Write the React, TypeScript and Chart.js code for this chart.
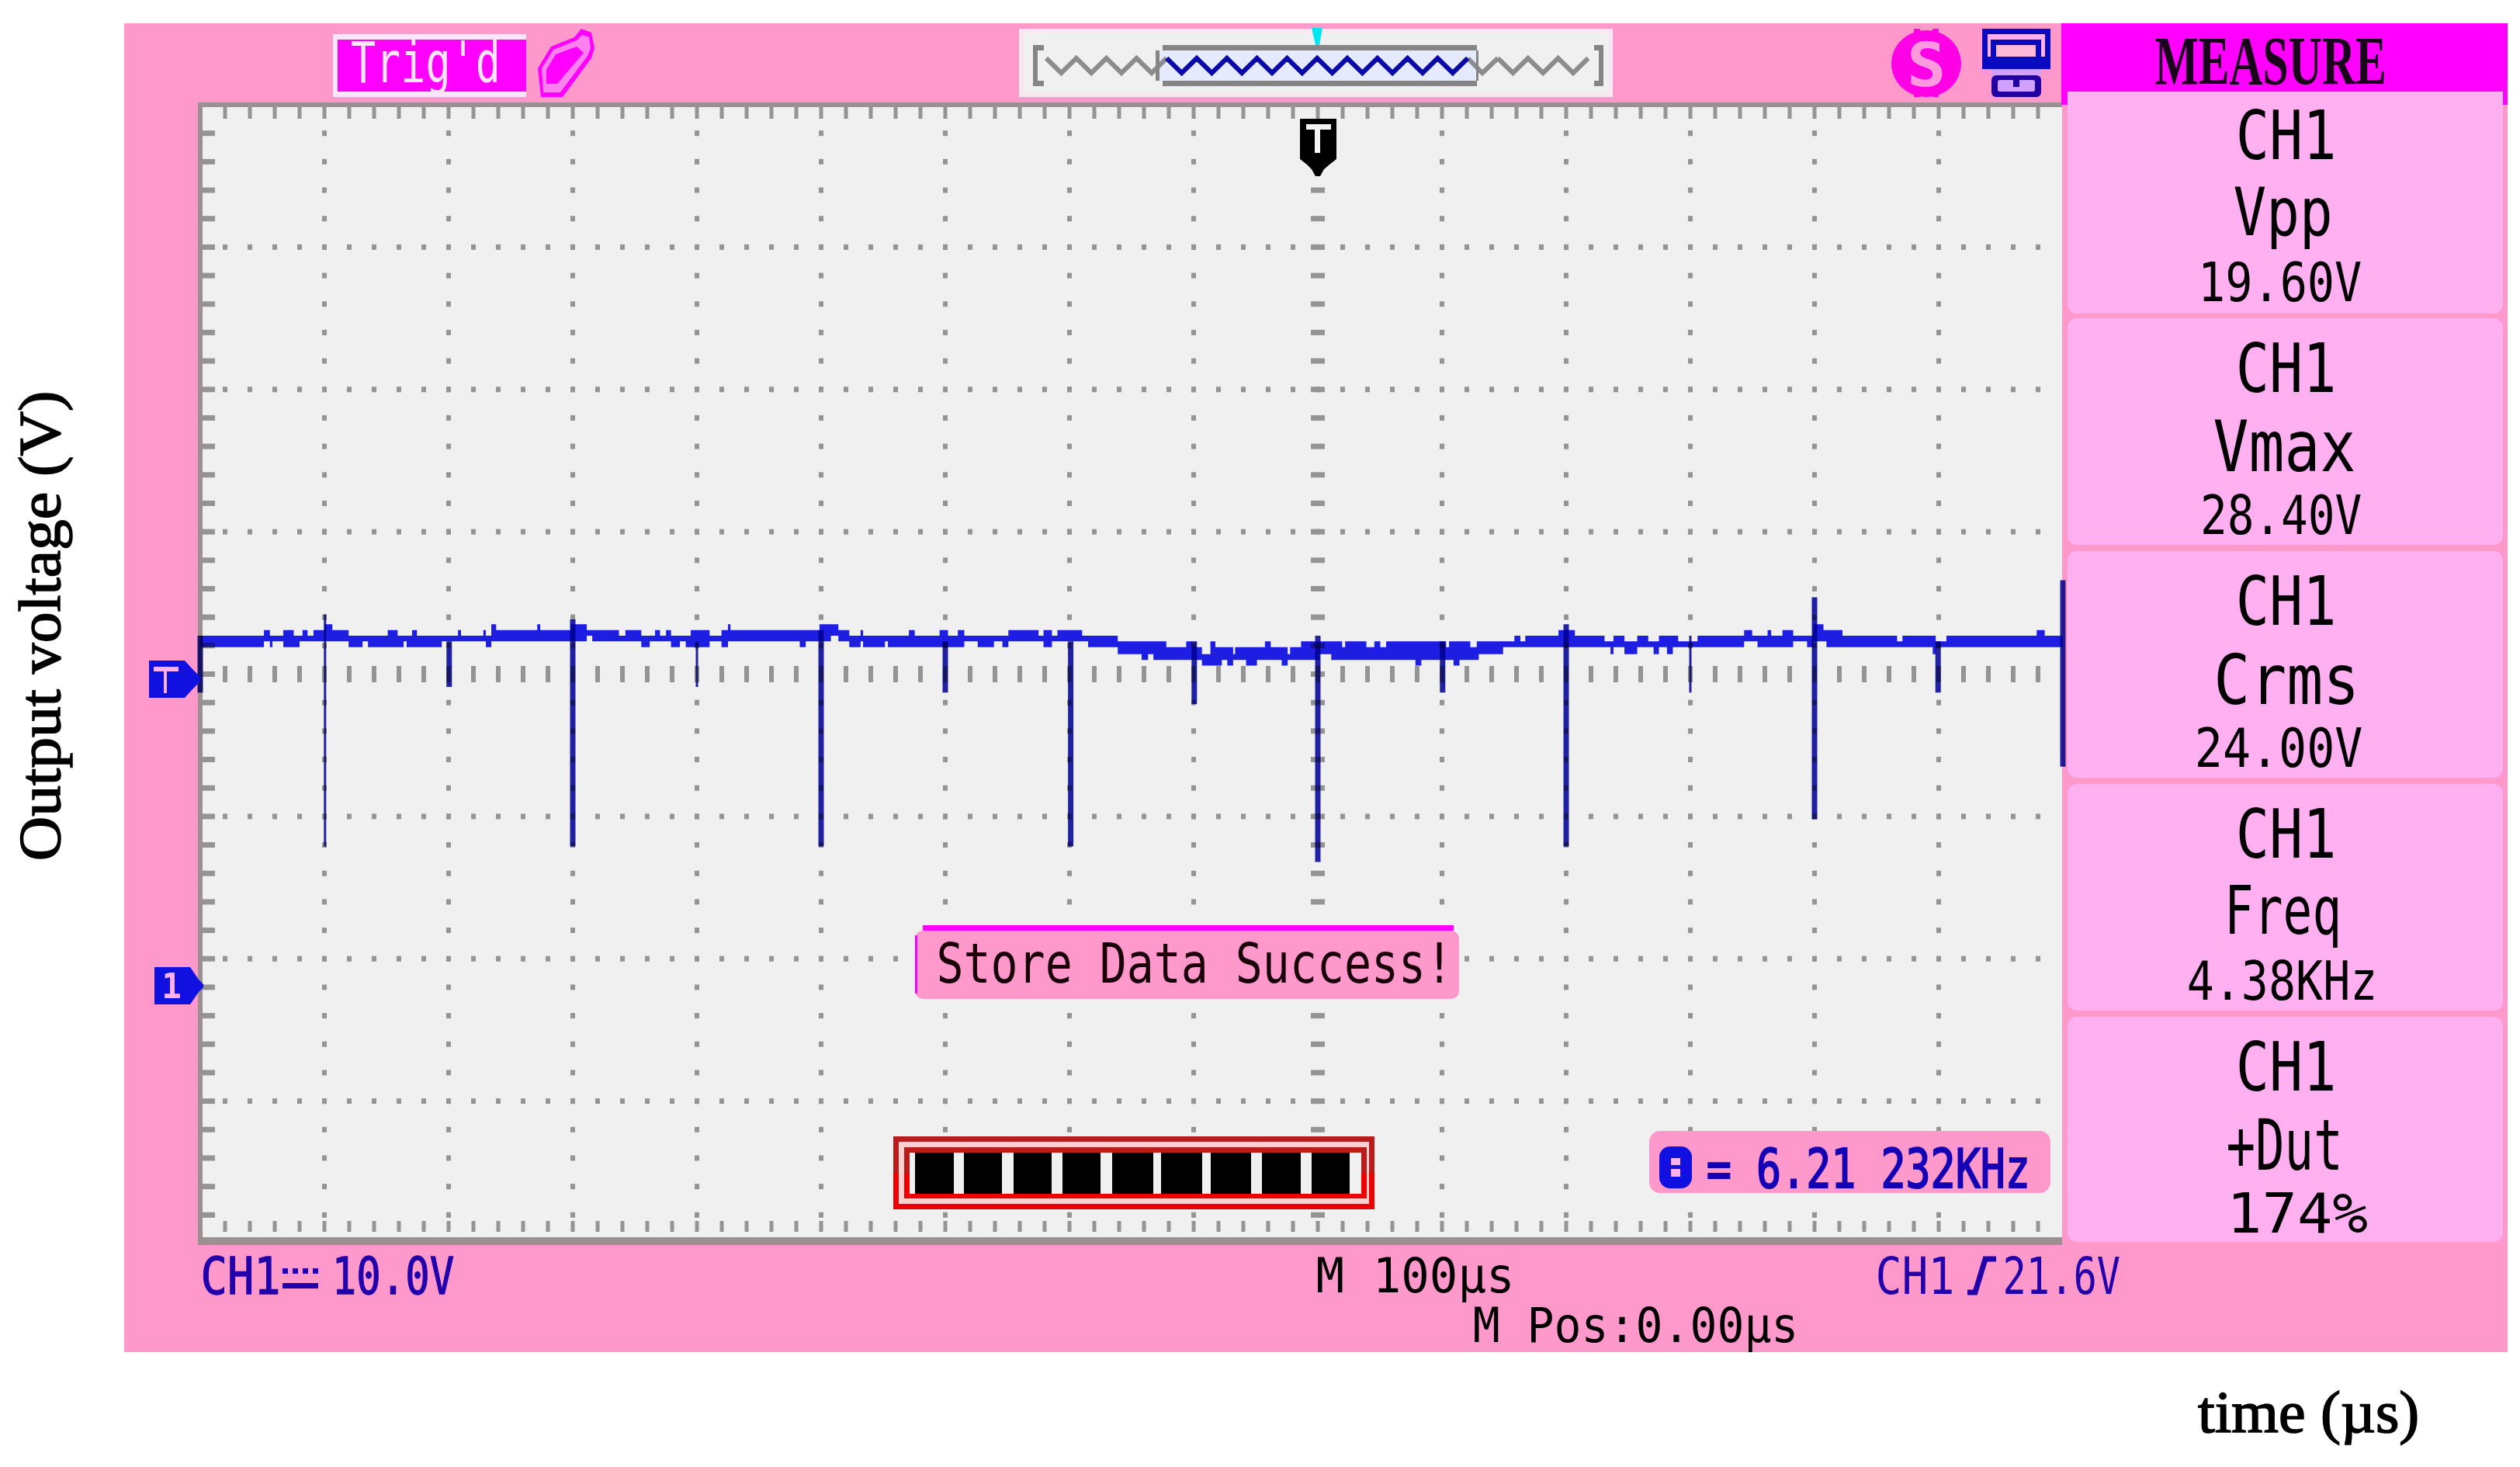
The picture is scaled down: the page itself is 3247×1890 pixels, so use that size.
import React, { useEffect, useRef } from "react";
import { Chart, registerables } from "chart.js";

Chart.register(...registerables);

const yAxisTitle = "Output voltage (V)";
const xAxisTitle = "time (µs)";
const headerText = "MEASURE";
const measureNames = ["Vpp", "Vmax", "Crms", "Freq", "+Dut"];
const measureValues = ["19.60V", "28.40V", "24.00V", "4.38KHz", "174%"];

// Envelope of the trace: each run starts at traceT (µs) and holds traceHi/traceLo (V).
const traceT = [
  -900, -848.7, -843.9, -841.9, -833.1, -824.7, -820, -817.6, -813.6, -808.8, -800, -793.6, -780.5, -769.3, -764.9,
  -749, -741, -736.2, -733.8, -729.4, -725.5, -705.5, -692.4, -690, -672, -670, -665.6, -661.7, -628.6, -626.2,
  -601.8, -588.7, -584.3, -562.8, -557.6, -544.8, -538, -533.7, -529.7, -524.9, -520.9, -513.7, -509, -505, -489.8,
  -480.2, -475, -473, -417.2, -412.4, -401.3, -392.1, -386.1, -377.3, -368.2, -366.2, -348.6, -346.2,
  -329.3, -324.6, -304.6, -297.8, -289.9, -284.7, -273.9, -260.8, -254, -249.2, -224.9, -220.9, -214.1, -209.7,
  -189.8, -185, -161.1, -141.9, -136.7, -132.4, -122, -106, -101.3, -93.3, -86.5, -82.5, -77.3, -72.9, -68.2, -66.6,
  -57.8, -49, -42.6, -37.9, -29.1, -24.3, -22.3, -13.5, 1.2, 10.8, 19.6, 22, 39.1, 45.5, 50.3, 55, 78.6, 83.4,
  103.3, 105.7, 109.3, 114.1, 122.8, 128, 129.6, 149.2, 158.3, 163.1, 167.1, 193.8, 207, 230.9, 235.7, 238.1, 246.9,
  257.2, 266.1, 270.4, 274.7, 281.2, 285.9, 290.2, 305.8, 343.3, 349.8, 354.1, 362.2, 365.1, 374.2, 382.8, 394,
  399.1, 407.2, 409.6, 422.5, 466.5, 470.8, 495.2, 497.6, 506.2, 578.9, 585.4, 600,
];
const traceHi = [
  24.6, 25.0, 24.6, 24.6, 25.0, 24.6, 24.6, 25.0, 24.6, 25.0, 25.4, 25.0, 24.6, 24.6, 24.6,
  25.0, 24.6, 24.6, 24.6, 25.0, 24.6, 24.6, 25.0, 24.6, 25.0, 24.6, 25.4, 25.0, 25.4, 25.0,
  25.4, 25.0, 25.0, 24.6, 25.0, 24.6, 24.6, 25.0, 24.6, 25.0, 24.6, 24.6, 24.6, 25.0, 24.6,
  25.0, 25.4, 25.0, 25.0, 25.0, 25.4, 25.4, 25.0, 24.6, 25.0, 24.6, 24.6, 24.6,
  25.0, 24.6, 25.0, 24.6, 25.0, 24.6, 24.6, 24.6, 24.6, 25.0, 24.6, 25.0, 24.6, 25.0,
  24.6, 24.6, 24.2, 24.2, 24.2, 24.2, 23.8, 24.2, 23.8, 23.3, 24.2, 23.8, 23.8, 23.8, 23.3, 23.8,
  23.8, 23.8, 24.2, 23.8, 23.8, 23.3, 23.8, 24.2, 24.2, 24.2, 23.8, 24.2, 23.8, 24.2, 23.8, 24.2, 24.2, 24.2,
  23.8, 24.2, 24.2, 24.2, 23.8, 24.2, 24.2, 24.2, 24.6, 24.2, 24.6, 25.0, 24.6, 24.2, 24.2, 24.6, 24.2,
  24.6, 24.2, 24.2, 24.6, 24.6, 24.6, 24.2, 24.6, 25.0, 24.6, 24.6, 25.0, 24.6, 25.0, 24.6, 24.6,
  25.4, 25.0, 25.0, 24.6, 24.2, 24.6, 24.6, 24.2, 24.6, 25.0, 24.6, 24.6,
];
const traceLo = [
  23.8, 24.2, 23.8, 24.2, 23.8, 23.8, 24.2, 24.2, 24.2, 24.2, 24.2, 24.2, 23.8, 24.2, 23.8,
  23.8, 23.8, 24.2, 23.8, 23.8, 23.8, 24.2, 24.2, 24.2, 24.2, 23.8, 24.2, 24.2, 24.2, 24.2,
  24.2, 24.6, 24.2, 24.2, 24.2, 23.8, 24.2, 24.2, 24.2, 24.2, 23.8, 24.2, 23.8, 23.8, 24.2,
  23.8, 24.2, 24.2, 23.8, 24.2, 24.2, 24.6, 24.2, 23.8, 24.2, 23.8, 24.2, 23.8,
  23.8, 23.8, 23.8, 23.8, 23.8, 24.2, 23.8, 24.2, 23.8, 24.2, 24.2, 23.8, 24.2, 24.2,
  24.2, 23.8, 23.3, 22.9, 23.3, 22.9, 22.9, 22.9, 22.9, 22.5, 22.5, 22.5, 22.9, 22.5, 22.9, 22.9,
  22.5, 22.9, 22.9, 22.9, 22.5, 22.9, 22.9, 22.9, 23.3, 22.9, 22.9, 22.9, 22.9, 22.9, 22.9, 22.9, 22.5, 22.9,
  22.9, 22.9, 22.5, 22.9, 22.9, 22.9, 23.3, 23.8, 23.8, 23.8, 23.8, 23.8, 23.8, 23.8, 23.3, 23.8, 23.3,
  23.8, 23.8, 23.3, 23.8, 23.3, 23.8, 23.8, 23.8, 24.2, 24.2, 23.8, 23.8, 23.8, 23.8, 24.2, 23.8,
  24.2, 24.2, 23.8, 23.8, 23.8, 23.8, 23.3, 23.8, 23.8, 23.8, 23.8, 23.8,
];

// Narrow spikes: [time µs, top V, bottom V]
const thinSpikeT = [-799.5, -500, 300];
const thinSpikeTop = [26.1, 24.2, 24.6];
const thinSpikeBottom = [9.8, 21.0, 20.6];
// Wide spikes
const wideSpikeT = [-900, -699.5, -600, -400, -300, -199, -99.5, 0, 100.5, 200, 400, 499.5, 600];
const wideSpikeTop = [24.6, 24.2, 25.75, 25.0, 24.2, 24.2, 24.2, 24.6, 24.2, 25.4, 27.3, 24.2, 28.5];
const wideSpikeBottom = [20.6, 21.0, 9.8, 9.8, 20.6, 9.8, 19.8, 8.7, 20.6, 9.8, 11.7, 20.6, 15.4];

const spikePoints = (t: number[], top: number[], bottom: number[]) =>
  t.flatMap((x, i) => [
    { x, y: top[i] },
    { x, y: bottom[i] },
    { x, y: null },
  ]);

const MONO = "'DejaVu Sans Mono'";
const PINK = "#ff99cc";
const PANEL = "#ffb0f0";
const MAGENTA = "#ff00ff";
const SCREEN = "#f0f0f0";
const GRID = "#949494";
const TEXT_BLUE = "#2200aa";

function fit(
  ctx: CanvasRenderingContext2D,
  text: string,
  x0: number,
  x1: number,
  y0: number,
  y1: number,
  font: string,
  color: string,
  stroke = 0
) {
  ctx.save();
  ctx.font = font;
  ctx.textAlign = "left";
  ctx.textBaseline = "alphabetic";
  const m = ctx.measureText(text);
  const w = m.actualBoundingBoxRight + m.actualBoundingBoxLeft;
  const h = m.actualBoundingBoxAscent + m.actualBoundingBoxDescent;
  const sx = (x1 - x0) / w;
  const sy = (y1 - y0) / h;
  ctx.translate(x0 + m.actualBoundingBoxLeft * sx, y0 + m.actualBoundingBoxAscent * sy);
  ctx.scale(sx, sy);
  ctx.fillStyle = color;
  ctx.fillText(text, 0, 0);
  if (stroke) {
    ctx.strokeStyle = color;
    ctx.lineWidth = stroke;
    ctx.strokeText(text, 0, 0);
  }
  ctx.restore();
}

function rect(ctx: CanvasRenderingContext2D, x0: number, y0: number, x1: number, y1: number, color: string) {
  ctx.fillStyle = color;
  ctx.fillRect(x0, y0, x1 - x0, y1 - y0);
}

function rounded(ctx: CanvasRenderingContext2D, x0: number, y0: number, x1: number, y1: number, r: number, color: string) {
  ctx.fillStyle = color;
  ctx.beginPath();
  ctx.roundRect(x0, y0, x1 - x0, y1 - y0, r);
  ctx.fill();
}

function poly(ctx: CanvasRenderingContext2D, pts: number[][], color: string) {
  ctx.fillStyle = color;
  ctx.beginPath();
  pts.forEach(([x, y], i) => (i ? ctx.lineTo(x, y) : ctx.moveTo(x, y)));
  ctx.closePath();
  ctx.fill();
}

const scopePlugin = {
  id: "scope",
  beforeDatasetsDraw(chart: any) {
    const ctx: CanvasRenderingContext2D = chart.ctx;
    const sx = chart.scales.x;
    const sy = chart.scales.y;
    ctx.save();
    // frame
    rect(ctx, 160, 30, 3231, 1742, PINK);
    // screen
    rect(ctx, 255, 132, 2660, 1604, "#9a9090");
    rect(ctx, 261, 138, 2660, 1594, SCREEN);

    // graticule: 20 µs / 2 V sub-divisions, 100 µs / 10 V divisions
    for (let t = -900 + 20; t < 600; t += 20) {
      const px = sx.getPixelForValue(t);
      rect(ctx, px - 2.5, 138, px + 2.5, 153, GRID);
      rect(ctx, px - 2.5, 1573, px + 2.5, 1587, GRID);
      for (let k = 1; k < 8; k++) {
        const py = sy.getPixelForValue(sy.min + k * 10);
        if (k === 4) rect(ctx, px - 3, py - 10.5, px + 3, py + 10.5, GRID);
        else rect(ctx, px - 3, py - 3.5, px + 3, py + 3.5, GRID);
      }
    }
    for (let k = 1; k < 40; k++) {
      const py = sy.getPixelForValue(sy.min + k * 2);
      rect(ctx, 261, py - 3.5, 277, py + 3.5, GRID);
      for (let t = -800; t < 600; t += 100) {
        const px = sx.getPixelForValue(t);
        const half = t === 0 ? 9 : 3;
        rect(ctx, px - half, py - 3.5, px + half, py + 3.5, GRID);
      }
    }

    // measure panel
    rect(ctx, 2656, 30, 3231, 135, MAGENTA);
    rect(ctx, 2664, 118, 3225, 135, PANEL);
    const tops = [118, 410, 710, 1010, 1310];
    const bottoms = [404, 702, 1002, 1302, 1600];
    tops.forEach((t, i) => {
      rect(ctx, 2657, Math.max(t, 135) - 6, 3231, bottoms[i] + 8, PINK);
    });
    rect(ctx, 2657, 118, 2664, 135, MAGENTA);
    rect(ctx, 3225, 118, 3231, 135, MAGENTA);
    tops.forEach((t, i) => rounded(ctx, 2664, t, 3225, bottoms[i], 12, PANEL));
    rect(ctx, 2657, 1600, 3231, 1742, PINK);
    ctx.restore();

    // the trace darkens what it crosses
    ctx.globalCompositeOperation = "multiply";
  },
  afterDatasetsDraw(chart: any) {
    const ctx: CanvasRenderingContext2D = chart.ctx;
    ctx.globalCompositeOperation = "source-over";
    ctx.save();

    // titles
    ctx.save();
    ctx.rotate(-Math.PI / 2);
    fit(ctx, yAxisTitle, -1107, -506, 23, 93, "70px 'Liberation Serif'", "#000", 1.4);
    ctx.restore();
    fit(ctx, xAxisTitle, 2832, 3115, 1792, 1862, "66px 'Liberation Serif'", "#000", 1.4);

    // Trig'd
    rect(ctx, 429, 44, 678, 125, "#ffe4ff");
    rect(ctx, 435, 51, 678, 118, MAGENTA);
    fit(ctx, "Trig'd", 453, 640, 51, 122, `100px ${MONO}`, "#ffe4ff");

    // pencil icon
    poly(ctx, [[749, 37], [762, 42], [766, 62], [762, 75], [725, 125], [697, 125], [693, 88], [710, 60], [740, 48]], MAGENTA);
    poly(ctx, [[750, 45], [759, 48], [761, 62], [757, 72], [722, 119], [700, 119], [698, 88], [713, 64], [743, 52]], "#ff80ee");
    poly(ctx, [[743, 60], [752, 68], [718, 108], [704, 108], [704, 90], [716, 70]], MAGENTA);

    // memory overview
    rect(ctx, 1313, 37, 2078, 125, "#f7e8f2");
    rect(ctx, 1320, 42, 2072, 120, SCREEN);
    rect(ctx, 1492, 65, 1903, 104, "#e6eaff");
    const zig = (from: number, to: number, color: string) => {
      ctx.strokeStyle = color;
      ctx.lineWidth = 6;
      ctx.beginPath();
      for (let i = from; i <= to; i++) {
        const top = 1348 + i * 38.8;
        if (i === from) ctx.moveTo(top, 75);
        else ctx.lineTo(top, 75);
        if (i < to) ctx.lineTo(top + 19.4, 94);
      }
      ctx.stroke();
    };
    zig(0, 4, "#8c8c8c");
    zig(15, 18, "#8c8c8c");
    ctx.strokeStyle = "#8c8c8c";
    ctx.lineWidth = 6;
    ctx.beginPath();
    ctx.moveTo(1891.2, 75);
    ctx.lineTo(1910, 94);
    ctx.lineTo(1930, 75);
    ctx.stroke();
    zig(4, 14, "#0a0aa8");
    rect(ctx, 1498, 58, 1903, 65, "#858585");
    rect(ctx, 1498, 104, 1903, 111, "#858585");
    rect(ctx, 1489, 65, 1494, 104, "#858585");
    rect(ctx, 1902, 65, 1905, 104, "#858585");
    rect(ctx, 1331, 58, 1345, 65, "#858585");
    rect(ctx, 1331, 58, 1337, 111, "#858585");
    rect(ctx, 1331, 104, 1345, 111, "#858585");
    rect(ctx, 2054, 58, 2066, 65, "#858585");
    rect(ctx, 2060, 58, 2066, 111, "#858585");
    rect(ctx, 2054, 104, 2066, 111, "#858585");
    poly(ctx, [[1690, 36], [1704, 36], [1700, 58], [1695, 58]], "#00e6f0");

    // trigger position marker
    poly(ctx, [[1675, 153], [1722, 153], [1722, 205], [1713, 212], [1706, 218], [1701, 227], [1695, 227], [1690, 218], [1684, 212], [1675, 205]], "#000");
    rect(ctx, 1683, 160, 1715, 167, "#f4f4f4");
    rect(ctx, 1694, 167, 1701, 197, "#f4f4f4");

    // S icon
    ctx.fillStyle = "#ff00e6";
    ctx.beginPath();
    ctx.ellipse(2482, 82, 45, 43, 0, 0, Math.PI * 2);
    ctx.fill();
    rect(ctx, 2466, 37, 2474, 125, "#ff00e6");
    rect(ctx, 2490, 37, 2498, 125, "#ff00e6");
    fit(ctx, "S", 2462, 2503, 52, 112, `bold 100px ${MONO}`, "#ff99dd");

    // printer icon
    rect(ctx, 2554, 37, 2642, 89, "#0a0ac0");
    rect(ctx, 2561, 44, 2635, 73, PANEL);
    rect(ctx, 2565, 51, 2630, 73, "#0a0ac0");
    rect(ctx, 2572, 58, 2623, 73, "#ffb8d8");
    rect(ctx, 2554, 73, 2642, 89, "#0a0ac0");
    rect(ctx, 2565, 89, 2630, 97, "#d0a0ff");
    rounded(ctx, 2566, 97, 2630, 125, 6, "#2000a0");
    rounded(ctx, 2574, 103, 2622, 118, 3, "#d0a0ff");
    rect(ctx, 2594, 100, 2602, 112, "#2000a0");

    // measure panel texts
    fit(ctx, headerText, 2777, 3072, 50, 110, "bold 100px 'Liberation Serif'", "#1a001a");
    const nameBox = [[2879, 3002], [2853, 3033], [2857, 3033], [2873, 3012], [2871, 3013]];
    const valueBox = [[2839, 3042], [2839, 3042], [2832, 3043], [2820, 3058], [2878, 3050]];
    measureNames.forEach((name, k) => {
      const off = 300 * k;
      fit(ctx, "CH1", 2885, 3006, 140 + off, 206 + off, `100px ${MONO}`, "#000");
      const descends = name === "Vpp" || name === "Freq";
      fit(ctx, name, nameBox[k][0], nameBox[k][1], 241 + off, (descends ? 321 : 308) + off, `100px ${MONO}`, "#000");
      fit(ctx, measureValues[k], valueBox[k][0], valueBox[k][1], 336 + off, 389 + off, `100px ${MONO}`, "#000");
    });

    // channel markers
    poly(ctx, [[192, 851], [238, 851], [248, 862], [258, 872], [258, 878], [248, 888], [238, 899], [192, 899]], "#1010e0");
    rect(ctx, 198, 859, 230, 865, "#ffb0f0");
    rect(ctx, 211, 865, 215, 893, "#ffb0f0");
    poly(ctx, [[199, 1246], [245, 1246], [256, 1262], [262, 1268], [262, 1272], [256, 1278], [245, 1294], [199, 1294]], "#1010e0");
    fit(ctx, "1", 212, 232, 1254, 1286, `bold 100px ${MONO}`, "#ffb0f0");

    // status line
    fit(ctx, "CH1", 262, 358, 1618, 1668, `100px ${MONO}`, TEXT_BLUE, 2);
    rect(ctx, 364, 1653, 410, 1660, TEXT_BLUE);
    for (let i = 0; i < 4; i++) rect(ctx, 364 + i * 13, 1634, 371 + i * 13, 1641, TEXT_BLUE);
    fit(ctx, "10.0V", 434, 584, 1618, 1668, `100px ${MONO}`, TEXT_BLUE, 2);
    fit(ctx, "M 100µs", 1698, 1946, 1618, 1678, `100px ${MONO}`, "#000");
    fit(ctx, "M Pos:0.00µs", 1900, 2312, 1683, 1742, `100px ${MONO}`, "#000");
    fit(ctx, "CH1", 2420, 2515, 1618, 1668, `100px ${MONO}`, TEXT_BLUE);
    ctx.strokeStyle = TEXT_BLUE;
    ctx.lineWidth = 7;
    ctx.beginPath();
    ctx.moveTo(2535, 1665);
    ctx.lineTo(2545, 1665);
    ctx.lineTo(2558, 1622);
    ctx.lineTo(2572, 1622);
    ctx.stroke();
    fit(ctx, "21.6V", 2584, 2731, 1618, 1668, `100px ${MONO}`, TEXT_BLUE);

    // store message
    rounded(ctx, 1179, 1199, 1880, 1287, 10, PINK);
    rect(ctx, 1189, 1192, 1873, 1199, MAGENTA);
    rect(ctx, 1179, 1205, 1182, 1280, MAGENTA);
    fit(ctx, "Store Data Success!", 1210, 1858, 1213, 1267, `100px ${MONO}`, "#1a0008");

    // progress bar
    rect(ctx, 1151, 1464, 1771, 1511, "#b81c1c");
    rect(ctx, 1151, 1511, 1771, 1558, "#ee0000");
    rect(ctx, 1158, 1471, 1764, 1551, "#ffd0d0");
    rect(ctx, 1165, 1478, 1761, 1511, "#b81c1c");
    rect(ctx, 1165, 1511, 1761, 1544, "#ee0000");
    rect(ctx, 1172, 1485, 1754, 1538, SCREEN);
    const cellStart = [1179, 1242, 1306, 1369, 1433, 1496, 1560, 1626, 1690];
    const cellEnd = [1229, 1291, 1355, 1418, 1486, 1549, 1612, 1676, 1739];
    cellStart.forEach((c, i) => rect(ctx, c, 1485, cellEnd[i], 1538, "#000"));

    // frequency counter
    rounded(ctx, 2125, 1457, 2642, 1537, 14, PINK);
    rounded(ctx, 2138, 1477, 2180, 1531, 14, "#1010e0");
    rect(ctx, 2153, 1492, 2165, 1516, "#ffb0f0");
    rect(ctx, 2138, 1501, 2180, 1506, "#1010e0");
    fit(ctx, "= 6.21 232KHz", 2201, 2611, 1478, 1531, `100px ${MONO}`, "#1500b4", 3);
    ctx.restore();
  },
};

export default function App() {
  const ref = useRef<HTMLCanvasElement>(null);
  useEffect(() => {
    document.body.style.margin = "0";
    document.body.style.overflow = "hidden";
    const pick = (arr: number[]) => traceT.map((x, i) => ({ x, y: arr[i] }));
    const chart = new Chart(ref.current as HTMLCanvasElement, {
      type: "line",
      data: {
        datasets: [
          {
            label: "CH1 max",
            data: pick(traceHi),
            stepped: "before",
            borderWidth: 0,
            pointRadius: 0,
            backgroundColor: "#2020f2",
            fill: "+1",
          },
          {
            label: "CH1 min",
            data: pick(traceLo),
            stepped: "before",
            borderWidth: 0,
            pointRadius: 0,
            fill: false,
          },
          {
            label: "CH1 thin spikes",
            data: spikePoints(thinSpikeT, thinSpikeTop, thinSpikeBottom),
            borderColor: "#2323ae",
            borderWidth: 3,
            pointRadius: 0,
            spanGaps: false,
            borderCapStyle: "butt",
            fill: false,
            clip: false,
          },
          {
            label: "CH1 wide spikes",
            data: spikePoints(wideSpikeT, wideSpikeTop, wideSpikeBottom),
            borderColor: "#2323ae",
            borderWidth: 7,
            pointRadius: 0,
            spanGaps: false,
            borderCapStyle: "butt",
            fill: false,
            clip: false,
          },
        ],
      } as any,
      options: {
        responsive: false,
        animation: false,
        devicePixelRatio: 1,
        layout: { padding: { left: 258, top: 135, right: 3247 - 2658, bottom: 1890 - 1602 } },
        plugins: { legend: { display: false }, tooltip: { enabled: false } },
        scales: {
          x: { type: "linear", min: -900, max: 600, display: false },
          y: { type: "linear", min: -18.1, max: 61.9, display: false },
        },
      } as any,
      plugins: [scopePlugin as any],
    });
    return () => chart.destroy();
  }, []);
  return (
    <canvas
      ref={ref}
      width={3247}
      height={1890}
      style={{ display: "block", width: 3247, height: 1890, background: "#fff" }}
    />
  );
}
